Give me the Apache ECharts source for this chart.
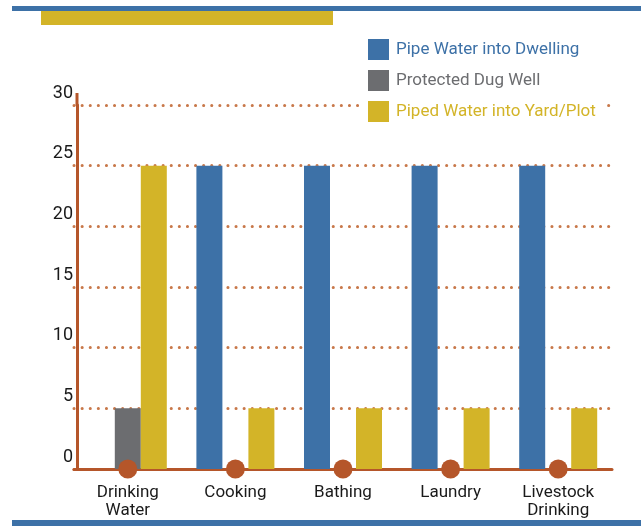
<!DOCTYPE html>
<html>
<head>
<meta charset="utf-8">
<script src="https://cdn.jsdelivr.net/npm/echarts@6/dist/echarts.min.js"></script>
<style>
  html, body { margin: 0; padding: 0; background: #fff; }
  #chart { width: 641px; height: 527px; }
</style>
</head>
<body>
<div id="chart"></div>
<script>
// chart data
const categories = ['Drinking\nWater', 'Cooking', 'Bathing', 'Laundry', 'Livestock\nDrinking'];
const pipeDwelling = [0, 25, 25, 25, 25];
const dugWell = [5, 0, 0, 0, 0];
const pipedYard = [25, 5, 5, 5, 5];
const baseDots = [0, 0, 0, 0, 0];

const BLUE = '#3D71A7';
const GRAY = '#6C6D70';
const YELLOW = '#D3B428';
const RUST = '#B5562A';
const FONT = 'Roboto';

let myChart = echarts.init(document.getElementById('chart'));

let option = {
    animation: false,
    textStyle: { fontFamily: FONT },
    grid: {
        left: 74,
        right: 29,
        top: 105,
        bottom: 58
    },
    legend: {
        orient: 'vertical',
        left: 363,
        top: 34,
        padding: [5, 8, 5, 5],
        backgroundColor: '#fff',
        itemWidth: 21,
        itemHeight: 21,
        itemGap: 10,
        icon: 'rect',
        textStyle: {
            fontSize: 17,
            fontFamily: FONT,
            padding: [0, 0, 0, 2]
        },
        data: [
            { name: 'Pipe Water into Dwelling', textStyle: { color: BLUE } },
            { name: 'Protected Dug Well', textStyle: { color: GRAY } },
            { name: 'Piped Water into Yard/Plot', textStyle: { color: YELLOW } }
        ]
    },
    xAxis: {
        type: 'category',
        data: categories,
        axisTick: { show: false },
        axisLine: { lineStyle: { color: RUST, width: 3 } },
        axisLabel: {
            color: '#1a1a1a',
            fontSize: 17,
            lineHeight: 18,
            margin: 15,
            fontFamily: FONT
        }
    },
    yAxis: {
        type: 'value',
        min: 0,
        max: 30,
        interval: 5,
        offset: -3,
        axisTick: { show: false },
        axisLine: { show: true, lineStyle: { color: RUST, width: 3 } },
        axisLabel: {
            color: '#1a1a1a',
            fontSize: 18,
            margin: 4,
            verticalAlign: 'bottom',
            padding: [0, 0, 3, 0],
            fontFamily: FONT
        },
        splitLine: {
            lineStyle: { color: '#C8784A', width: 3, type: [0.1, 8], cap: 'round' }
        }
    },
    series: [
        {
            name: 'Pipe Water into Dwelling',
            type: 'bar',
            data: pipeDwelling,
            barWidth: 26,
            barGap: '0%',
            itemStyle: { color: BLUE }
        },
        {
            name: 'Protected Dug Well',
            type: 'bar',
            data: dugWell,
            barWidth: 26,
            barGap: '0%',
            itemStyle: { color: GRAY }
        },
        {
            name: 'Piped Water into Yard/Plot',
            type: 'bar',
            data: pipedYard,
            barWidth: 26,
            barGap: '0%',
            itemStyle: { color: YELLOW }
        },
        {
            name: 'dots',
            type: 'scatter',
            data: baseDots,
            symbol: 'circle',
            symbolSize: 19,
            clip: false,
            z: 10,
            itemStyle: { color: RUST, opacity: 1 },
            silent: true
        }
    ],
    graphic: [
        // top band
        { type: 'rect', shape: { x: 12, y: 6, width: 629, height: 5 }, style: { fill: BLUE } },
        { type: 'rect', shape: { x: 41, y: 11, width: 292, height: 14 }, style: { fill: YELLOW } },
        // bottom band
        { type: 'rect', shape: { x: 12, y: 520, width: 629, height: 6 }, style: { fill: BLUE } },
        // y axis runs a little past the top tick
        { type: 'line', shape: { x1: 77, y1: 93, x2: 77, y2: 106 }, style: { stroke: RUST, lineWidth: 3 } }
    ]
};

myChart.setOption(option);
</script>
</body>
</html>
